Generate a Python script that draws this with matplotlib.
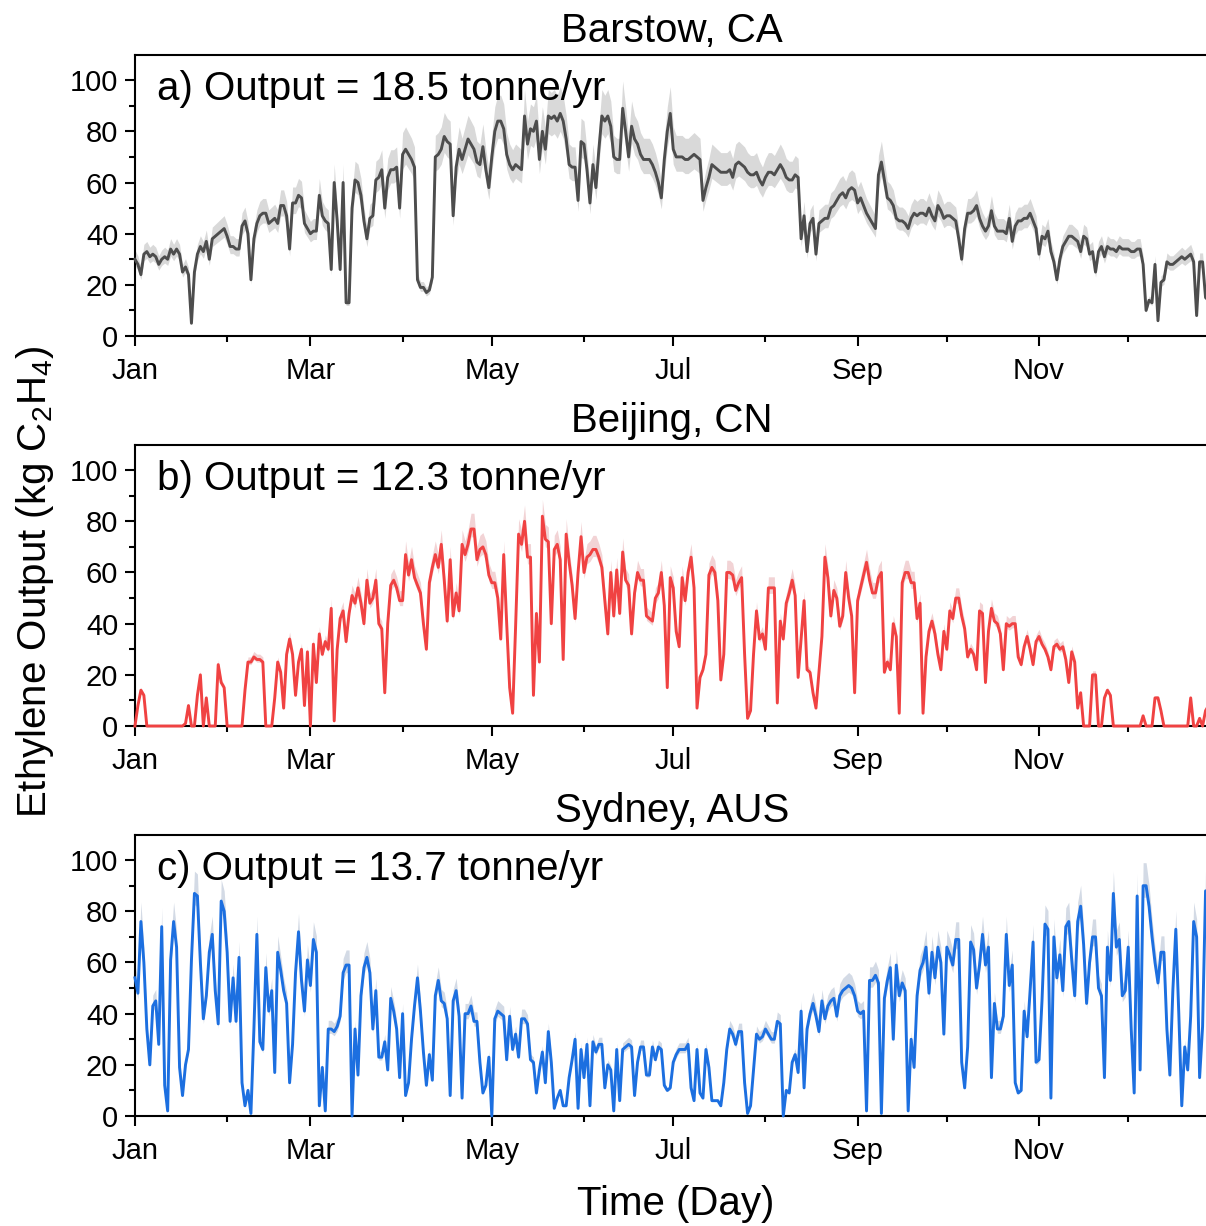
import numpy as np
import matplotlib
matplotlib.use('Agg')
import matplotlib.pyplot as plt

plt.rcParams['font.family'] = ['Liberation Sans', 'DejaVu Sans']
plt.rcParams['mathtext.fontset'] = 'custom'
plt.rcParams['mathtext.rm'] = 'Liberation Sans'
plt.rcParams['mathtext.it'] = 'Liberation Sans:italic'

# Daily ethylene output (kg C2H4), day 0 = Jan 1
barstow = [
    30, 28, 24, 32, 33, 31, 32, 31, 28, 30,
    31, 30, 34, 32, 34, 32, 25, 27, 24, 5,
    25, 32, 35, 33, 37, 30, 38, 39, 40, 41,
    42, 39, 35, 35, 34, 34, 43, 45, 40, 22,
    38, 44, 47, 48, 48, 44, 45, 46, 44, 51,
    51, 47, 34, 52, 52, 55, 54, 44, 42, 40,
    41, 41, 55, 47, 45, 44, 26, 60, 45, 26,
    60, 13, 13, 50, 61, 60, 55, 45, 38, 46,
    47, 61, 62, 65, 50, 62, 65, 65, 66, 50,
    71, 73, 71, 69, 66, 22, 19, 19, 17, 18,
    23, 70, 71, 73, 78, 76, 75, 47, 66, 73,
    69, 73, 77, 75, 73, 68, 67, 74, 65, 58,
    70, 80, 84, 84, 81, 71, 67, 65, 67, 66,
    65, 86, 75, 81, 80, 84, 69, 80, 73, 86,
    85, 86, 84, 87, 84, 77, 67, 66, 66, 53,
    76, 75, 65, 52, 67, 58, 73, 86, 84, 86,
    82, 70, 69, 69, 89, 80, 70, 82, 77, 75,
    71, 69, 69, 69, 67, 64, 60, 54, 69, 80,
    87, 73, 70, 70, 70, 69, 69, 70, 71, 70,
    69, 53, 58, 62, 67, 66, 65, 64, 64, 64,
    65, 62, 67, 68, 67, 66, 64, 63, 63, 64,
    61, 59, 62, 64, 64, 63, 65, 67, 65, 62,
    61, 61, 63, 62, 38, 47, 33, 44, 46, 32,
    44, 45, 46, 46, 50, 51, 53, 55, 56, 54,
    57, 58, 57, 52, 54, 51, 48, 46, 44, 42,
    63, 68, 61, 54, 53, 51, 46, 45, 45, 44,
    42, 46, 48, 47, 48, 48, 47, 50, 47, 45,
    51, 49, 46, 47, 47, 46, 45, 38, 30, 42,
    48, 48, 49, 51, 46, 43, 41, 43, 49, 43,
    41, 41, 41, 40, 46, 37, 43, 45, 45, 46,
    46, 48, 45, 42, 32, 39, 38, 41, 33, 29,
    22, 30, 35, 37, 39, 39, 38, 37, 33, 39,
    38, 32, 33, 25, 33, 35, 31, 35, 34, 34,
    33, 35, 34, 34, 34, 33, 33, 34, 34, 28,
    10, 14, 13, 28, 6, 21, 22, 29, 28, 28,
    29, 30, 31, 30, 31, 32, 29, 8, 29, 29,
    15, 14,
]

beijing = [
    0, 8, 14, 12, 0, 0, 0, 0, 0, 0,
    0, 0, 0, 0, 0, 0, 0, 1, 8, 0,
    0, 12, 20, 0, 11, 0, 0, 0, 24, 17,
    15, 0, 0, 0, 0, 0, 0, 14, 25, 25,
    27, 26, 26, 25, 0, 0, 0, 11, 25, 21,
    7, 28, 34, 28, 12, 25, 30, 8, 29, 0,
    32, 17, 36, 28, 33, 30, 46, 2, 30, 42,
    45, 33, 44, 51, 48, 54, 48, 40, 57, 48,
    50, 57, 40, 38, 13, 40, 55, 57, 54, 49,
    49, 67, 59, 65, 58, 55, 52, 40, 30, 56,
    62, 67, 62, 71, 57, 41, 65, 43, 52, 45,
    71, 67, 71, 77, 77, 65, 69, 70, 67, 59,
    56, 56, 50, 34, 67, 40, 15, 5, 39, 75,
    71, 80, 66, 66, 12, 44, 25, 82, 73, 72,
    40, 69, 71, 65, 26, 75, 64, 55, 42, 60,
    74, 60, 66, 67, 69, 69, 66, 62, 49, 36,
    60, 43, 61, 44, 68, 57, 55, 36, 52, 60,
    57, 57, 43, 42, 41, 50, 52, 60, 47, 15,
    58, 54, 37, 31, 58, 49, 60, 66, 54, 7,
    19, 22, 28, 59, 62, 60, 49, 18, 28, 60,
    60, 59, 53, 56, 58, 28, 3, 6, 28, 45,
    34, 36, 30, 54, 54, 54, 9, 41, 34, 48,
    52, 57, 51, 19, 34, 49, 22, 21, 13, 7,
    21, 35, 66, 58, 43, 53, 50, 39, 43, 60,
    50, 43, 13, 49, 54, 59, 64, 57, 52, 52,
    58, 60, 21, 25, 22, 40, 35, 5, 56, 60,
    60, 56, 56, 42, 48, 5, 27, 37, 41, 36,
    28, 22, 37, 30, 45, 42, 50, 50, 43, 38,
    27, 30, 28, 22, 45, 44, 17, 37, 46, 41,
    40, 36, 22, 40, 39, 40, 40, 27, 24, 31,
    35, 30, 24, 33, 35, 32, 30, 27, 22, 31,
    32, 30, 31, 26, 17, 29, 25, 7, 13, 0,
    0, 0, 20, 20, 0, 0, 11, 14, 12, 0,
    0, 0, 0, 0, 0, 0, 0, 0, 0, 4,
    0, 0, 0, 11, 11, 6, 0, 0, 0, 0,
    0, 0, 0, 0, 0, 11, 0, 0, 3, 0,
    6, 8,
]

sydney = [
    54, 48, 76, 60, 34, 20, 43, 45, 28, 74,
    12, 2, 61, 76, 66, 19, 8, 20, 26, 61,
    87, 86, 60, 38, 47, 64, 71, 49, 36, 84,
    80, 64, 37, 54, 37, 62, 13, 4, 10, 1,
    34, 71, 29, 26, 58, 41, 49, 17, 64, 57,
    49, 44, 13, 28, 56, 72, 53, 41, 61, 51,
    69, 64, 4, 19, 2, 34, 34, 33, 35, 39,
    56, 59, 59, 0, 34, 16, 47, 58, 62, 56,
    34, 49, 23, 23, 29, 18, 46, 41, 34, 15,
    40, 8, 13, 30, 43, 54, 41, 25, 12, 24,
    14, 47, 53, 45, 44, 38, 8, 45, 49, 39,
    7, 40, 40, 43, 37, 37, 21, 9, 12, 23,
    0, 38, 41, 40, 39, 22, 39, 26, 32, 23,
    38, 38, 36, 22, 21, 9, 18, 25, 13, 33,
    21, 3, 7, 10, 4, 4, 15, 22, 30, 3,
    26, 15, 28, 4, 29, 25, 28, 28, 11, 20,
    18, 2, 26, 6, 26, 27, 28, 27, 8, 21,
    27, 27, 16, 16, 27, 22, 27, 26, 12, 10,
    11, 21, 24, 26, 26, 26, 28, 11, 6, 26,
    9, 7, 26, 19, 6, 6, 6, 4, 13, 26,
    34, 32, 28, 33, 33, 13, 1, 4, 18, 32,
    30, 31, 34, 32, 30, 30, 37, 36, 0, 10,
    9, 21, 24, 17, 41, 11, 34, 40, 44, 39,
    33, 45, 38, 43, 45, 46, 39, 47, 49, 50,
    51, 50, 47, 41, 40, 41, 2, 53, 53, 55,
    52, 1, 46, 53, 58, 30, 59, 47, 52, 49,
    2, 30, 19, 47, 57, 60, 66, 48, 64, 54,
    66, 60, 32, 66, 63, 59, 69, 69, 21, 11,
    27, 68, 65, 50, 59, 71, 59, 66, 15, 44,
    34, 34, 39, 71, 51, 59, 13, 9, 10, 41,
    31, 49, 68, 21, 22, 45, 75, 73, 7, 70,
    54, 63, 49, 74, 76, 61, 47, 76, 82, 67,
    44, 60, 70, 70, 50, 47, 15, 66, 53, 87,
    66, 69, 47, 49, 66, 34, 9, 86, 18, 90,
    90, 82, 70, 60, 52, 64, 64, 34, 16, 49,
    73, 40, 4, 27, 18, 39, 76, 70, 15, 35,
    88, 88,
]

cities = ['Barstow, CA', 'Beijing, CN', 'Sydney, AUS']
labels = ['a) Output = 18.5 tonne/yr', 'b) Output = 12.3 tonne/yr', 'c) Output = 13.7 tonne/yr']
series = [barstow, beijing, sydney]
# relative spread of the shaded uncertainty band (upper, lower)
band_hi = [0.12, 0.08, 0.10]
band_lo = [0.08, 0.04, 0.05]

# day index (0 = Jan 1) of month starts
month_ticks = [0, 59, 120, 181, 243, 304]
month_labels = ['Jan', 'Mar', 'May', 'Jul', 'Sep', 'Nov']
minor_month_ticks = [31, 90, 151, 212, 273, 334]

line_colors = ['#4d4d4d', '#f04242', '#1c6fe0']
band_colors = ['#d9d9d9', '#f2d3d5', '#d3dae5']

fig = plt.figure(figsize=(12.06, 12.26), dpi=100)
left, width = 0.1119, 0.8902
bottoms = [0.7259, 0.4078, 0.0897]
height = 0.2296

for i in range(3):
    ax = fig.add_axes([left, bottoms[i], width, height])
    vals = np.array(series[i], dtype=float)
    days = np.arange(len(vals))
    ax.fill_between(days, vals * (1 - band_lo[i]), vals * (1 + band_hi[i]),
                    color=band_colors[i], linewidth=0, zorder=1)
    ax.plot(days, vals, color=line_colors[i], linewidth=2.1, zorder=3, clip_on=False)

    ax.set_xlim(0, 361)
    ax.set_ylim(0, 110)
    ax.set_xticks(month_ticks)
    ax.set_xticklabels(month_labels)
    ax.set_xticks(minor_month_ticks, minor=True)
    ax.set_yticks(np.arange(0, 101, 20))
    ax.set_yticks(np.arange(10, 100, 20), minor=True)
    ax.tick_params(axis='both', which='major', labelsize=21, length=7, width=1.5, pad=5)
    ax.tick_params(axis='x', which='major', pad=8)
    ax.tick_params(axis='both', which='minor', length=4, width=1.5)
    for s in ax.spines.values():
        s.set_linewidth(1.5)

    ax.set_title(cities[i], fontsize=29, pad=9)
    ax.text(0.0205, 0.84, labels[i], transform=ax.transAxes, fontsize=29,
            ha='left', va='baseline')

fig.text(0.029, 0.525, 'Ethylene Output (kg C$_2$H$_4$)', rotation=90,
         ha='center', va='center', fontsize=29)
fig.text(0.5605, 0.018, 'Time (Day)', ha='center', va='center', fontsize=29)

fig.savefig('out.png', dpi=100)
